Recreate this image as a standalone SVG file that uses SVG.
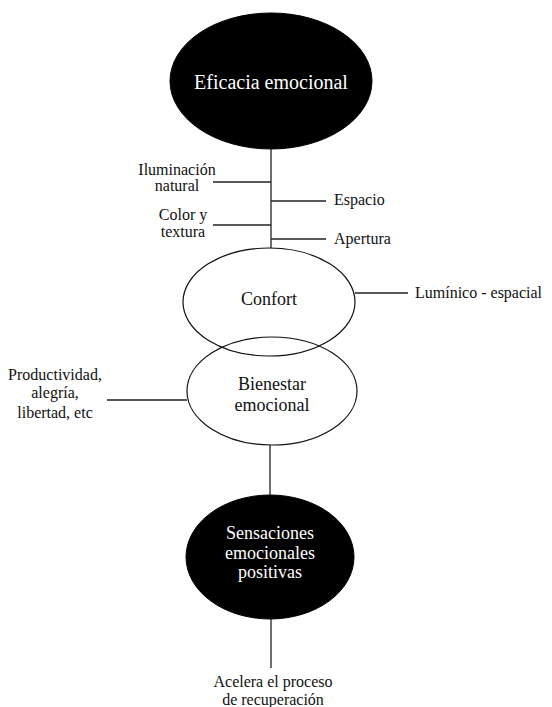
<svg xmlns="http://www.w3.org/2000/svg" width="552" height="707" viewBox="0 0 552 707">
  <style>
    text { font-family: "Liberation Serif", "Times New Roman", serif; fill: #111; }
    .lbl { font-size: 16px; }
    .mid { text-anchor: middle; }
    .big { font-size: 20px; fill: #fff; }
    .in { font-size: 18px; }
    .inw { font-size: 18px; fill: #fff; }
    .ln { stroke: #222; stroke-width: 1.3; fill: none; }
    .dark { fill: #000; stroke: #000; }
    .light { fill: #fff; stroke: #111; stroke-width: 1.2; }
    .ring { fill: none; stroke: #111; stroke-width: 1.2; }
  </style>
  <rect width="552" height="707" fill="#fff"/>

  <g id="connectors">
    <line class="ln" x1="271" y1="149" x2="271" y2="248"/>
    <line class="ln" x1="213" y1="182" x2="271" y2="182"/>
    <line class="ln" x1="271" y1="201" x2="326" y2="201"/>
    <line class="ln" x1="213" y1="225" x2="271" y2="225"/>
    <line class="ln" x1="271" y1="239" x2="326" y2="239"/>
    <line class="ln" x1="355" y1="293" x2="408" y2="293"/>
    <line class="ln" x1="107" y1="400" x2="187" y2="400"/>
    <line class="ln" x1="270" y1="445" x2="270" y2="495"/>
    <line class="ln" x1="271" y1="619" x2="271" y2="668"/>
  </g>

  <g id="eficacia">
    <ellipse class="dark" cx="271" cy="81" rx="101" ry="68"/>
    <text class="big mid" x="271" y="89">Eficacia emocional</text>
  </g>

  <g id="iluminacion">
    <text class="lbl mid" x="177" y="175">Iluminación</text>
    <text class="lbl mid" x="177" y="191">natural</text>
  </g>

  <g id="espacio">
    <text class="lbl" x="334" y="205">Espacio</text>
  </g>

  <g id="color">
    <text class="lbl mid" x="183" y="219.5">Color y</text>
    <text class="lbl mid" x="183" y="237">textura</text>
  </g>

  <g id="apertura">
    <text class="lbl" x="334" y="244">Apertura</text>
  </g>

  <g id="confort">
    <ellipse class="light" cx="269" cy="302" rx="86" ry="54"/>
    <text class="in mid" x="269" y="305">Confort</text>
  </g>

  <g id="luminico">
    <text class="lbl" x="415" y="298">Lumínico - espacial</text>
  </g>

  <g id="bienestar">
    <ellipse class="ring" cx="272" cy="391" rx="85" ry="54"/>
    <text class="in mid" x="272" y="390">Bienestar</text>
    <text class="in mid" x="272" y="411">emocional</text>
  </g>

  <g id="productividad">
    <text class="lbl mid" x="55" y="380">Productividad,</text>
    <text class="lbl mid" x="55" y="398">alegría,</text>
    <text class="lbl mid" x="55" y="418">libertad, etc</text>
  </g>

  <g id="sensaciones">
    <ellipse class="dark" cx="270" cy="557" rx="84" ry="62"/>
    <text class="inw mid" x="270" y="539">Sensaciones</text>
    <text class="inw mid" x="270" y="559">emocionales</text>
    <text class="inw mid" x="270" y="578">positivas</text>
  </g>

  <g id="acelera">
    <text class="lbl mid" x="273" y="687">Acelera el proceso</text>
    <text class="lbl mid" x="273" y="705">de recuperación</text>
  </g>
</svg>
